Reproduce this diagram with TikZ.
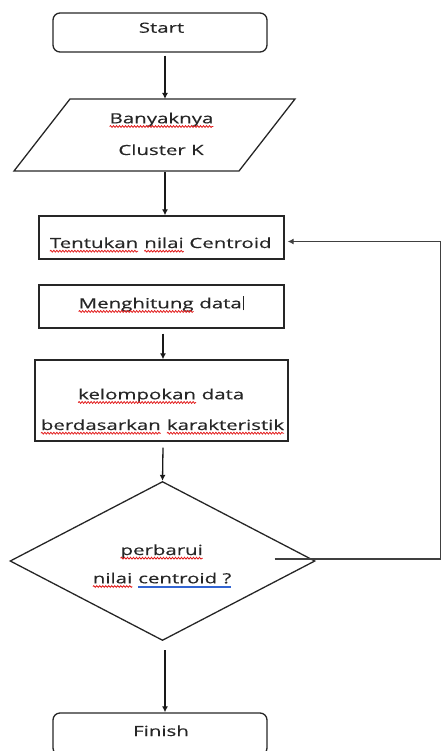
\documentclass[tikz,border=0pt]{standalone}
\usepackage{fontspec}
\newfontfamily\lbl[FakeStretch=1.46,FakeBold=0.4]{Open Sans}
\usetikzlibrary{shapes.geometric,arrows.meta,decorations.pathmorphing,calc}
\definecolor{spellblue}{RGB}{50,100,210}
\definecolor{spellred}{RGB}{225,25,25}
\tikzset{
  shape line/.style={draw=black!85, line width=1.3pt},
  term/.style={shape line, rectangle, rounded corners=7pt, minimum width=214pt, minimum height=39pt, inner sep=0pt},
  proc/.style={shape line, rectangle, inner sep=0pt},
  txt/.style={anchor=base, inner sep=0pt, font=\lbl\fontsize{14}{16}\selectfont, text=black!85},
  arr/.style={draw=black!90, line width=1.3pt, -{Latex[length=6pt,width=6pt]}},
  fb/.style={draw=black!75, line width=1.1pt, -{Latex[length=6pt,width=6pt]}},
}
\newcommand\sqw[1]{\tikz[baseline=(sqwn.base)]{\node[inner sep=0pt,outer sep=0pt,anchor=base] (sqwn) {#1};\draw[spellred,line width=0.8pt,decorate,decoration={snake,amplitude=0.9pt,segment length=3pt}] ([yshift=-3.2pt]sqwn.base west) -- ([yshift=-3.2pt]sqwn.base east);}}
\newcommand\blu[1]{\tikz[baseline=(bun.base)]{\node[inner sep=0pt,outer sep=0pt,anchor=base] (bun) {#1};\draw[spellblue,line width=0.6pt] ([yshift=-2.5pt]bun.base west) -- ([yshift=-2.5pt]bun.base east) ([yshift=-4.2pt]bun.base west) -- ([yshift=-4.2pt]bun.base east);}}
\begin{document}
\begin{tikzpicture}[x=1pt,y=-1pt]
\useasboundingbox (0,0) rectangle (441,751);
% shapes
\node[term] (start) at (160,32.5) {};
\draw[shape line] (70,99) -- (295,99) -- (239,171) -- (14,171) -- cycle;
\coordinate (inpN) at (165,99);
\coordinate (inpS) at (165,172);
\node[proc, minimum width=245pt, minimum height=43pt] (box1) at (161.5,237.5) {};
\node[proc, minimum width=245pt, minimum height=43pt] (box2) at (161.5,306.5) {};
\node[proc, minimum width=253pt, minimum height=81pt] (box3) at (161.5,400.5) {};
\node[shape line, diamond, minimum width=305pt, minimum height=159pt, inner sep=0pt] (dia) at (162.5,561) {};
\node[term, minimum height=42pt] (finish) at (160,734) {};
% texts
\node[txt] (tstart) at (161.5,32.7) {Start};
\node[txt] (tinp1) at (161.5,123.3) {\sqw{Banyaknya}};
\node[txt] (tinp2) at (161,155) {Cluster K};
\node[txt] (tbox1) at (160.5,248) {\sqw{Tentukan} \sqw{nilai} Centroid};
\node[txt] (tbox2) at (161,308.3) {\sqw{Menghitung} data\hspace{1pt}\rule[-2pt]{0.9pt}{14pt}};
\node[txt] (tbox3a) at (161,399.3) {\sqw{kelompokan} data};
\node[txt] (tbox3b) at (162.5,430) {\sqw{berdasarkan} \sqw{karakteristik}};
\node[txt] (tdia1) at (161.7,555) {\sqw{perbarui}};
\node[txt] (tdia2) at (162,583.3) {\sqw{nilai} \blu{centroid ?}};
\node[txt] (tfin) at (161,736) {Finish};
% connectors
\draw[arr] ([shift={(5pt,-3pt)}]start.south) -- (inpN);
\draw[arr] (inpS) -- ([xshift=3.5pt]box1.north);
\draw[arr] ([shift={(1.5pt,-5pt)}]box2.south) -- ([xshift=1.5pt]box3.north);
\draw[arr] ([shift={(1.5pt,-6pt)}]box3.south) -- (dia.north);
\draw[arr] ([shift={(2.5pt,-9pt)}]dia.south) -- ([xshift=5pt]finish.north);
\draw[fb] ([shift={(-41pt,2pt)}]dia.east) -- ++(166,0) |- ([shift={(3pt,-4pt)}]box1.east);
\end{tikzpicture}
\end{document}
